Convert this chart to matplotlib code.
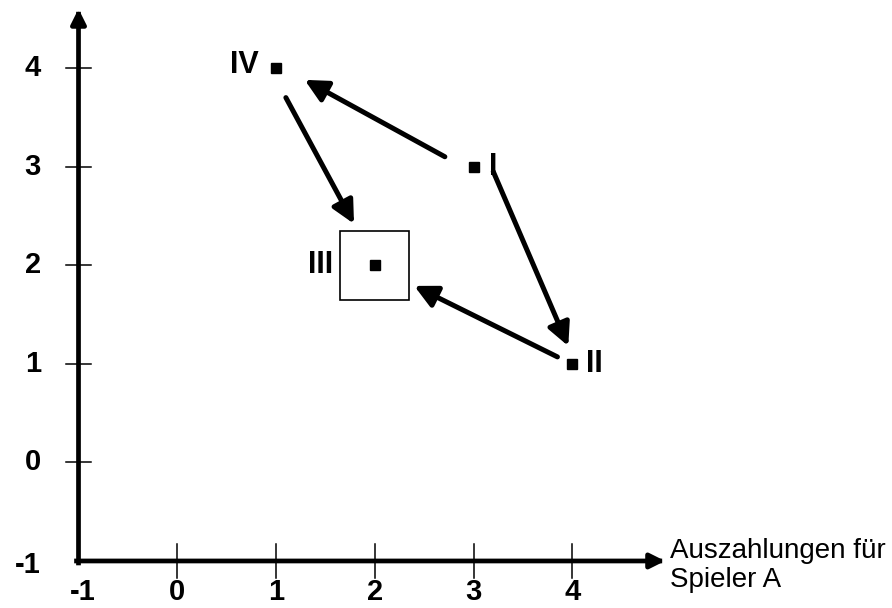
import matplotlib
matplotlib.use("Agg")
import matplotlib.pyplot as plt
from matplotlib.patches import Rectangle

plt.rcParams['font.family'] = ['Liberation Sans', 'DejaVu Sans']

# payoff points (Spieler A, Spieler B)
names = ["I", "II", "III", "IV"]
xs = [3, 4, 2, 1]
ys = [3, 1, 2, 4]

# arrows between the outcomes: (from, to) as data coords
arrow_from = [(2.71, 3.10), (3.20, 2.95), (3.85, 1.07), (1.10, 3.70)]
arrow_to = [(1.29, 3.88), (3.96, 1.18), (2.40, 1.79), (1.79, 2.42)]

ticks = [-1, 0, 1, 2, 3, 4]
xlabel = "Auszahlungen für\nSpieler A"

fig = plt.figure(figsize=(8.92, 6.08), dpi=100)
ax = fig.add_axes([0, 0, 1, 1])
ax.set_xlim(-1.795, 7.238)
ax.set_ylim(-1.477, 4.690)
ax.axis('off')

# axes with arrow heads
axkw = dict(arrowstyle='-|>', lw=3.4, color='black', mutation_scale=22,
            shrinkA=0, shrinkB=0, capstyle='projecting')
ax.annotate('', xy=(4.94, -1), xytext=(-1.02, -1), arrowprops=axkw)
ax.annotate('', xy=(-1, 4.6), xytext=(-1, -1.02), arrowprops=axkw)

# ticks
for t in ticks:
    if t > -1:
        ax.plot([t, t], [-1.17, -0.83], color='black', lw=1.1)
        ax.plot([-1.13, -0.87], [t, t], color='black', lw=1.1)
    ax.text(t + (0.04 if t == -1 else 0), -1.31, str(t), ha='center',
            va='center', fontsize=21, fontweight='bold')
    ax.text(-1.38, t - (0.04 if t == -1 else 0), str(t), ha='right',
            va='center', fontsize=21, fontweight='bold')

ax.text(4.99, -1.05, xlabel, ha='left', va='center', fontsize=20,
        linespacing=1.15)

# points and labels
ax.plot(xs, ys, 's', color='black', markersize=7.5, ls='none')
offsets = {"I": (0.16, 0.0, 'left'), "II": (0.14, 0.0, 'left'),
           "III": (-0.42, 0.0, 'right'), "IV": (-0.17, 0.03, 'right')}
for n, x, y in zip(names, xs, ys):
    dx, dy, ha = offsets[n]
    ax.text(x + dx, y + dy, n, ha=ha, va='center', fontsize=22,
            fontweight='bold')

# Nash equilibrium box around III
ax.add_patch(Rectangle((1.65, 1.65), 0.70, 0.70, fill=False,
                       edgecolor='black', lw=1.2))

arkw = dict(arrowstyle='-|>', lw=3.6, color='black', mutation_scale=34,
            shrinkA=0, shrinkB=0)
for a, b in zip(arrow_from, arrow_to):
    ax.annotate('', xy=b, xytext=a, arrowprops=arkw)

fig.savefig('out.png', dpi=100)
